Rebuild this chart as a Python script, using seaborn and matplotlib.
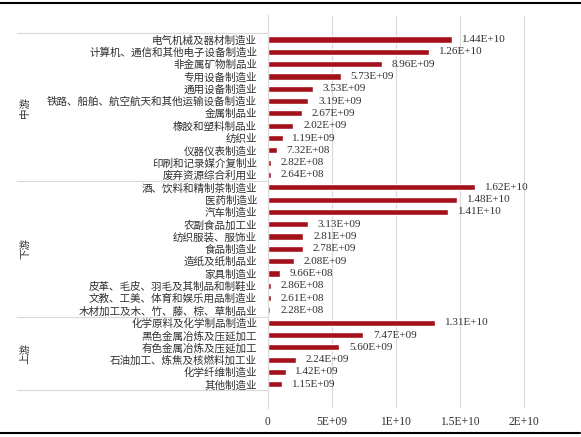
import matplotlib
matplotlib.use('Agg')
import matplotlib.pyplot as plt
import seaborn as sns
import pandas as pd
from matplotlib.lines import Line2D

# ---- data ----
groups = ['中游', '下游', '上游']

mid_cats = ['电气机械及器材制造业', '计算机、通信和其他电子设备制造业', '非金属矿物制品业',
            '专用设备制造业', '通用设备制造业', '铁路、船舶、航空航天和其他运输设备制造业',
            '金属制品业', '橡胶和塑料制品业', '纺织业', '仪器仪表制造业',
            '印刷和记录媒介复制业', '废弃资源综合利用业']
mid_vals = [1.44e10, 1.26e10, 8.96e9, 5.73e9, 3.53e9, 3.19e9,
            2.67e9, 2.02e9, 1.19e9, 7.32e8, 2.82e8, 2.64e8]

down_cats = ['酒、饮料和精制茶制造业', '医药制造业', '汽车制造业', '农副食品加工业',
             '纺织服装、服饰业', '食品制造业', '造纸及纸制品业', '家具制造业',
             '皮革、毛皮、羽毛及其制品和制鞋业', '文教、工美、体育和娱乐用品制造业',
             '木材加工及木、竹、藤、棕、草制品业']
down_vals = [1.62e10, 1.48e10, 1.41e10, 3.13e9, 2.81e9, 2.78e9,
             2.08e9, 9.66e8, 2.86e8, 2.61e8, 2.28e8]

up_cats = ['化学原料及化学制品制造业', '黑色金属冶炼及压延加工', '有色金属冶炼及压延加工',
           '石油加工、炼焦及核燃料加工业', '化学纤维制造业', '其他制造业']
up_vals = [1.31e10, 7.47e9, 5.60e9, 2.24e9, 1.42e9, 1.15e9]

x_ticks = [0, 5e9, 1e10, 1.5e10, 2e10]
x_ticklabels = ['0', '5E+09', '1E+10', '1.5E+10', '2E+10']

group_cats = [mid_cats, down_cats, up_cats]
group_vals = [mid_vals, down_vals, up_vals]

cats, vals, grp = [], [], []
for g, c, v in zip(groups, group_cats, group_vals):
    cats += c
    vals += v
    grp += [g] * len(c)
df = pd.DataFrame({'industry': cats, 'value': vals, 'group': grp})

# ---- style ----
sns.set_theme(style='white')
plt.rcParams['font.family'] = ['Noto Sans CJK SC', 'DejaVu Sans']

BAR = '#A3121C'
GRID = '#D9D9D9'
TXT = '#303030'
SERIF = ['Liberation Serif', 'DejaVu Serif']

fig = plt.figure(figsize=(5.81, 4.37), dpi=100)
ax = fig.add_axes([267.5 / 581, 1 - 408.3 / 437, 292.5 / 581, (408.3 - 15.5) / 437])

sns.barplot(data=df, x='value', y='industry', order=cats, orient='h',
            color=BAR, saturation=1, width=0.5, errorbar=None, ax=ax)

ax.set_xlim(0, 2.285e10)
ax.set_xticks(x_ticks)
ax.set_xticklabels(x_ticklabels, fontfamily=SERIF, fontsize=8.3, color=TXT)
ax.set_xlabel('')
ax.set_ylabel('')
ax.tick_params(axis='x', length=0, pad=5.5)
ax.tick_params(axis='y', length=0, pad=7.5)
for lab in ax.get_yticklabels():
    lab.set_fontsize(7.6)
    lab.set_color(TXT)

ax.grid(axis='x', color=GRID, lw=0.8)
ax.set_axisbelow(True)
for s in ['top', 'right', 'bottom']:
    ax.spines[s].set_visible(False)
ax.spines['left'].set_color(GRID)
ax.spines['left'].set_linewidth(0.8)

# value labels
for i, v in enumerate(vals):
    ax.annotate(f'{v:.2E}', xy=(v, i), xytext=(7, 0), textcoords='offset points',
                ha='left', va='center', fontsize=8, fontfamily=SERIF, color=TXT)

# group separators and labels
trans = ax.get_yaxis_transform()
x_line0 = (17 - 267.5) / 292.5
x_glab = (25 - 267.5) / 292.5
start = -0.5
ax.plot([x_line0, 0], [start, start], transform=trans, color=GRID, lw=0.8, clip_on=False)
for g, c in zip(groups, group_cats):
    end = start + len(c)
    ax.plot([x_line0, 0], [end, end], transform=trans, color=GRID, lw=0.8, clip_on=False)
    ax.text(x_glab, (start + end) / 2, g, transform=trans, rotation=90,
            ha='center', va='center', fontsize=7.6, color=TXT)
    start = end

# top and bottom rules
fig.add_artist(Line2D([0, 1], [1 - 3.3 / 437] * 2, transform=fig.transFigure, color='black', lw=1.5))
fig.add_artist(Line2D([0, 580 / 581], [1 - 433.3 / 437] * 2, transform=fig.transFigure, color='black', lw=1.5))

fig.savefig('out.png', dpi=100, facecolor='white')
